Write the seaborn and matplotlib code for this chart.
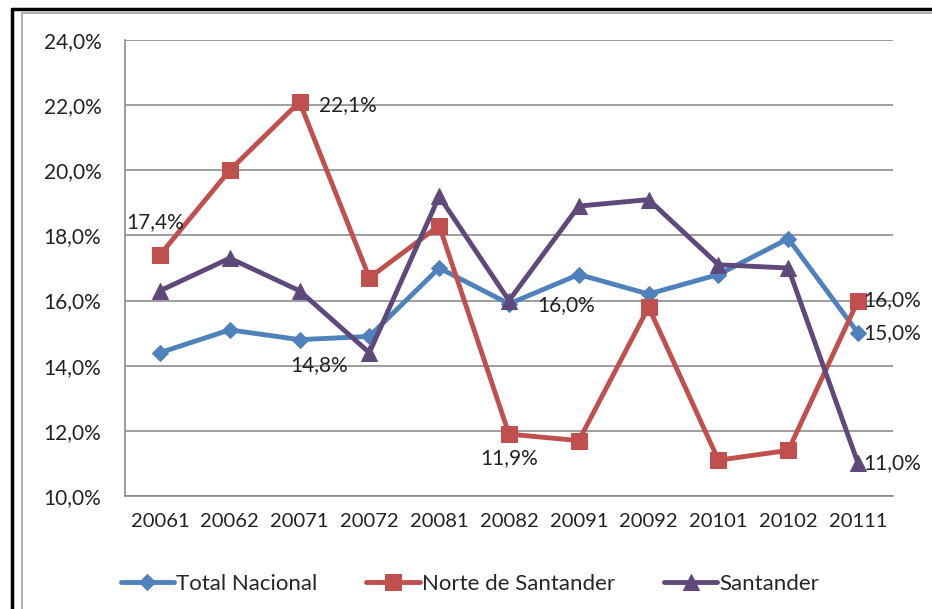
import matplotlib
matplotlib.use("Agg")
import matplotlib.pyplot as plt
import seaborn as sns
import pandas as pd
import numpy as np
from matplotlib.lines import Line2D
from matplotlib.ticker import FixedLocator

periods = ["20061", "20062", "20071", "20072", "20081", "20082",
           "20091", "20092", "20101", "20102", "20111"]
total_nacional = [14.4, 15.1, 14.8, 14.9, 17.0, 15.9, 16.8, 16.2, 16.8, 17.9, 15.0]
norte_santander = [17.4, 20.0, 22.1, 16.7, 18.3, 11.9, 11.7, 15.8, 11.1, 11.4, 16.0]
santander = [16.3, 17.3, 16.3, 14.4, 19.2, 16.0, 18.9, 19.1, 17.1, 17.0, 11.0]
y_ticks = [10, 12, 14, 16, 18, 20, 22, 24]

series_names = ["Total Nacional", "Norte de Santander", "Santander"]
series_vals = [total_nacional, norte_santander, santander]
colors = ["#4F81BD", "#C0504D", "#5F497A"]
markers = ["D", "s", "^"]
msizes = [8, 11, 11]

sns.set_style("white")
plt.rcParams["font.family"] = ["Lato", "DejaVu Sans"]

FS = 15

fig = plt.figure(figsize=(9.32, 6.09), dpi=100)
ax = fig.add_axes([125/932, 1-496/609, (893-125)/932, (496-40)/609])

x = np.arange(len(periods))
for name, vals, c, m, ms in zip(series_names, series_vals, colors, markers, msizes):
    df = pd.DataFrame({"x": x, "y": vals})
    sns.lineplot(data=df, x="x", y="y", ax=ax, color=c, linewidth=3.5,
                 marker=m, markersize=ms, markeredgecolor=c, label=name)

ax.set_xlim(-0.5, len(periods) - 0.5)
ax.set_ylim(10, 24)
ax.set_yticks(y_ticks)
ax.set_yticklabels([f"{v:.1f}%".replace(".", ",") for v in y_ticks])
ax.set_xticks(x)
ax.set_xticklabels(periods)
ax.xaxis.set_minor_locator(FixedLocator(np.arange(-0.5, len(periods), 1.0)))
ax.tick_params(axis="x", which="major", length=0, pad=12, labelsize=FS - 0.5, colors="#222222")
ax.tick_params(axis="x", which="minor", length=6, width=1.2, color="#8c8c8c", direction="out")
ax.tick_params(axis="y", which="major", length=9, width=1.2, color="#8c8c8c",
               direction="out", labelsize=FS, pad=8, labelcolor="#222222")
ax.set_xlabel("")
ax.set_ylabel("")
ax.grid(axis="y", color="#8c8c8c", linewidth=1.2)
ax.set_axisbelow(True)
for s in ["top", "right"]:
    ax.spines[s].set_visible(False)
for s in ["left", "bottom"]:
    ax.spines[s].set_color("#8c8c8c")
    ax.spines[s].set_linewidth(1.2)

def lab(i, v, dx, dy, ha="left", va="center"):
    ax.annotate(f"{v:.1f}%".replace(".", ","), (x[i], v), xytext=(dx, dy),
                textcoords="offset points", ha=ha, va=va, fontsize=FS, color="#222222")

lab(0, norte_santander[0], -24, 24)
lab(2, norte_santander[2], 14, -2)
lab(2, total_nacional[2], 14, -18, ha="center")
lab(5, santander[5], 20, -3)
lab(5, norte_santander[5], 0, -17, ha="center")
lab(10, norte_santander[10], 4, 0)
lab(10, total_nacional[10], 4, 0)
lab(10, santander[10], 4, 0)

handles, labels = ax.get_legend_handles_labels()
ax.legend_.remove()
fig.legend(handles, labels, loc="center", bbox_to_anchor=(470/932, 1-584/609), ncol=3,
           frameon=False, fontsize=FS + 1, handlelength=2.4, handletextpad=0.1,
           columnspacing=2.2)

# outer frame lines
fig.add_artist(Line2D([12/932, 12/932], [0, 1-9/609], color="black", linewidth=2.5,
                      transform=fig.transFigure))
fig.add_artist(Line2D([12/932, 1], [1-9/609, 1-9/609], color="black", linewidth=2.5,
                      transform=fig.transFigure))
fig.add_artist(Line2D([22/932, 22/932], [0, 1-13/609], color="#b0b0b0", linewidth=1.5,
                      transform=fig.transFigure))
fig.add_artist(Line2D([22/932, 1], [1-13/609, 1-13/609], color="#b0b0b0", linewidth=1.5,
                      transform=fig.transFigure))

fig.savefig("out.png", dpi=100)
